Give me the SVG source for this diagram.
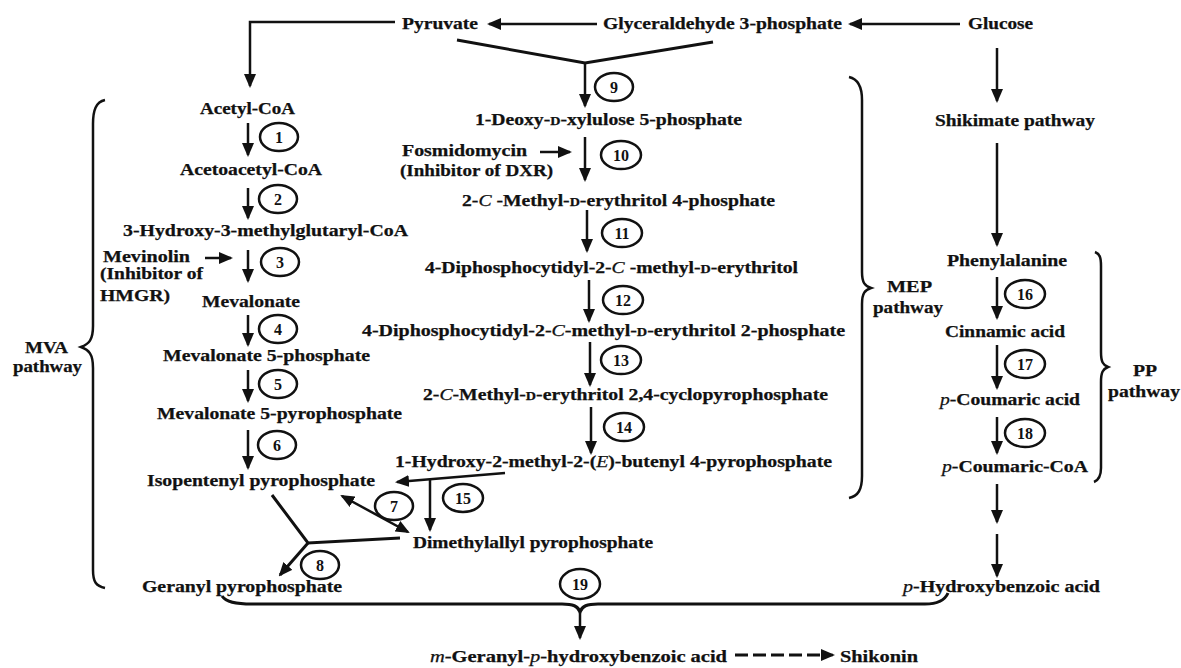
<svg xmlns="http://www.w3.org/2000/svg" width="1181" height="668" viewBox="0 0 1181 668">
<style>
.t{font-family:"Liberation Serif","Times New Roman",serif;font-weight:bold;font-size:16px;fill:#111;stroke:#111;stroke-width:0.25}
.i{font-style:italic;font-weight:normal}
.sc{font-size:11.5px}
.n{font-family:"Liberation Serif","Times New Roman",serif;font-weight:bold;font-size:16px;text-anchor:middle;fill:#111}
.ln{stroke:#111;stroke-width:2.5;fill:none}
.th{stroke:#111;stroke-width:3;fill:none}
.c{fill:#fff;stroke:#111;stroke-width:2.5}
.a{marker-end:url(#ah)}
.aa{marker-start:url(#ah);marker-end:url(#ah)}
</style>
<defs>
<marker id="ah" viewBox="0 0 14 12" refX="12" refY="6" markerWidth="14" markerHeight="12" markerUnits="userSpaceOnUse" orient="auto-start-reverse"><path d="M0,0 L14,6 L0,12 z" fill="#111"/></marker>
</defs>
<rect width="1181" height="668" fill="#fff"/>

<g id="connectors">
<path class="ln a" d="M395,22 H250 V86"/>
<path class="ln a" d="M597,24 H489"/>
<path class="ln a" d="M960,24 H850"/>
<path class="th" d="M457,40 L585,63 L713,42"/>
<path class="ln a" d="M585,63 V106"/>
<path class="ln a" d="M248,123 V155"/>
<path class="ln a" d="M248,188 V218"/>
<path class="ln a" d="M205,258 H231"/>
<path class="ln a" d="M248,250 V281"/>
<path class="ln a" d="M248,315 V345"/>
<path class="ln a" d="M248,370 V401"/>
<path class="ln a" d="M248,430 V468"/>
<path class="ln a" d="M540,152 H570"/>
<path class="ln a" d="M585,137 V180"/>
<path class="ln a" d="M587,210 V251"/>
<path class="ln a" d="M589,280 V321"/>
<path class="ln a" d="M590,342 V385"/>
<path class="ln a" d="M591,407 V453"/>
<path class="ln a" d="M505,473 L397,482"/>
<path class="ln a" d="M430,479 V530"/>
<path class="ln aa" d="M342,496 L408,532"/>
<path class="th" d="M272,495 L308,543 L400,538"/>
<path class="th a" d="M308,543 L280,575"/>
<path class="ln a" d="M997,48 V101"/>
<path class="ln a" d="M997,143 V245"/>
<path class="ln a" d="M997,277 V318"/>
<path class="ln a" d="M997,345 V388"/>
<path class="ln a" d="M997,417 V453"/>
<path class="ln a" d="M997,484 V522"/>
<path class="ln a" d="M997,534 V576"/>
<path class="ln" d="M105,100 C96,102 93,110 93,124 V326 C93,340 89,344 81,347 C89,350 93,354 93,368 V570 C93,582 96,586 105,588"/>
<path class="ln" d="M849,77 C858,79 862,86 862,100 V272 C862,283 865,286 871,288 C865,290 862,293 862,304 V476 C862,490 858,496 849,498"/>
<path class="ln" d="M1095,252 C1100,254 1101,258 1101,266 V352 C1101,362 1103,365 1108,367 C1103,369 1101,372 1101,382 V468 C1101,476 1099,480 1094,482"/>
<path class="th" d="M222,596 C226,602 235,604 252,604 H562 C573,604 578,606 580,612 C582,606 587,604 598,604 H925 C938,604 945,600 948,593"/>
<path class="ln a" d="M580,612 V638"/>
<path class="th" d="M735,655 H822" stroke-width="3.5" stroke-dasharray="13,5"/>
<path class="ln a" d="M822,655 H833"/>
</g>

<g id="n1"><ellipse class="c" cx="279" cy="137" rx="19" ry="14"/><text class="n" x="279" y="142.5">1</text></g>
<g id="n2"><ellipse class="c" cx="278" cy="199" rx="19" ry="14"/><text class="n" x="278" y="204.5">2</text></g>
<g id="n3"><ellipse class="c" cx="280" cy="262" rx="19" ry="14"/><text class="n" x="280" y="267.5">3</text></g>
<g id="n4"><ellipse class="c" cx="278" cy="329" rx="19" ry="14"/><text class="n" x="278" y="334.5">4</text></g>
<g id="n5"><ellipse class="c" cx="278" cy="384" rx="19" ry="14"/><text class="n" x="278" y="389.5">5</text></g>
<g id="n6"><ellipse class="c" cx="277" cy="445" rx="19" ry="14"/><text class="n" x="277" y="450.5">6</text></g>
<g id="n7"><ellipse class="c" cx="394" cy="506" rx="19" ry="14"/><text class="n" x="394" y="511.5">7</text></g>
<g id="n8"><ellipse class="c" cx="320" cy="565" rx="19" ry="14"/><text class="n" x="320" y="570.5">8</text></g>
<g id="n9"><ellipse class="c" cx="614" cy="87" rx="19" ry="14"/><text class="n" x="614" y="92.5">9</text></g>
<g id="n10"><ellipse class="c" cx="621" cy="155" rx="20" ry="14"/><text class="n" x="621" y="160.5">10</text></g>
<g id="n11"><ellipse class="c" cx="622" cy="233" rx="20" ry="14"/><text class="n" x="622" y="238.5">11</text></g>
<g id="n12"><ellipse class="c" cx="623" cy="300" rx="20" ry="14"/><text class="n" x="623" y="305.5">12</text></g>
<g id="n13"><ellipse class="c" cx="621" cy="360" rx="20" ry="14"/><text class="n" x="621" y="365.5">13</text></g>
<g id="n14"><ellipse class="c" cx="624" cy="427" rx="20" ry="14"/><text class="n" x="624" y="432.5">14</text></g>
<g id="n15"><ellipse class="c" cx="463" cy="498" rx="20" ry="14"/><text class="n" x="463" y="503.5">15</text></g>
<g id="n16"><ellipse class="c" cx="1025" cy="294" rx="20" ry="14"/><text class="n" x="1025" y="299.5">16</text></g>
<g id="n17"><ellipse class="c" cx="1025" cy="364" rx="20" ry="14"/><text class="n" x="1025" y="369.5">17</text></g>
<g id="n18"><ellipse class="c" cx="1025" cy="433" rx="20" ry="14"/><text class="n" x="1025" y="438.5">18</text></g>
<g id="n19"><ellipse class="c" cx="580" cy="584" rx="20" ry="15"/><text class="n" x="580" y="589.5">19</text></g>

<g id="pyruvate"><text class="t" x="402" y="29" textLength="76" lengthAdjust="spacingAndGlyphs">Pyruvate</text></g>
<g id="g3p"><text class="t" x="603" y="29" textLength="239" lengthAdjust="spacingAndGlyphs">Glyceraldehyde 3-phosphate</text></g>
<g id="glucose"><text class="t" x="968" y="29" textLength="65" lengthAdjust="spacingAndGlyphs">Glucose</text></g>
<g id="acetylcoa"><text class="t" x="200" y="114" textLength="95" lengthAdjust="spacingAndGlyphs">Acetyl-CoA</text></g>
<g id="acetoacetylcoa"><text class="t" x="180" y="175" textLength="142" lengthAdjust="spacingAndGlyphs">Acetoacetyl-CoA</text></g>
<g id="hmgcoa"><text class="t" x="123" y="236" textLength="285" lengthAdjust="spacingAndGlyphs">3-Hydroxy-3-methylglutaryl-CoA</text></g>
<g id="mevinolin"><text class="t" x="103" y="262" textLength="87" lengthAdjust="spacingAndGlyphs">Mevinolin</text><text class="t" x="100" y="279" textLength="103" lengthAdjust="spacingAndGlyphs">(Inhibitor of</text><text class="t" x="100" y="301" textLength="70" lengthAdjust="spacingAndGlyphs">HMGR)</text></g>
<g id="mevalonate"><text class="t" x="202" y="307" textLength="98" lengthAdjust="spacingAndGlyphs">Mevalonate</text></g>
<g id="mev5p"><text class="t" x="163" y="361" textLength="207" lengthAdjust="spacingAndGlyphs">Mevalonate 5-phosphate</text></g>
<g id="mev5pp"><text class="t" x="157" y="419" textLength="245" lengthAdjust="spacingAndGlyphs">Mevalonate 5-pyrophosphate</text></g>
<g id="ipp"><text class="t" x="147" y="486" textLength="228" lengthAdjust="spacingAndGlyphs">Isopentenyl pyrophosphate</text></g>
<g id="gpp"><text class="t" x="142" y="592" textLength="200" lengthAdjust="spacingAndGlyphs">Geranyl pyrophosphate</text></g>
<g id="mva"><text class="t" x="25" y="353" textLength="43" lengthAdjust="spacingAndGlyphs">MVA</text><text class="t" x="13" y="372" textLength="69" lengthAdjust="spacingAndGlyphs">pathway</text></g>
<g id="dxp"><text class="t" x="475" y="125" textLength="267" lengthAdjust="spacingAndGlyphs">1-Deoxy-<tspan class="sc">D</tspan>-xylulose 5-phosphate</text></g>
<g id="fosmidomycin"><text class="t" x="402" y="156" textLength="125" lengthAdjust="spacingAndGlyphs">Fosmidomycin</text><text class="t" x="400" y="176" textLength="153" lengthAdjust="spacingAndGlyphs">(Inhibitor of DXR)</text></g>
<g id="mep"><text class="t" x="462" y="206" textLength="313" lengthAdjust="spacingAndGlyphs">2-<tspan class="i">C</tspan> -Methyl-<tspan class="sc">D</tspan>-erythritol 4-phosphate</text></g>
<g id="cdpme"><text class="t" x="425" y="273" textLength="373" lengthAdjust="spacingAndGlyphs">4-Diphosphocytidyl-2-<tspan class="i">C</tspan> -methyl-<tspan class="sc">D</tspan>-erythritol</text></g>
<g id="cdpmep"><text class="t" x="362" y="336" textLength="483" lengthAdjust="spacingAndGlyphs">4-Diphosphocytidyl-2-<tspan class="i">C</tspan>-methyl-<tspan class="sc">D</tspan>-erythritol 2-phosphate</text></g>
<g id="mecpp"><text class="t" x="423" y="400" textLength="405" lengthAdjust="spacingAndGlyphs">2-<tspan class="i">C</tspan>-Methyl-<tspan class="sc">D</tspan>-erythritol 2,4-cyclopyrophosphate</text></g>
<g id="hmbpp"><text class="t" x="395" y="467" textLength="437" lengthAdjust="spacingAndGlyphs">1-Hydroxy-2-methyl-2-(<tspan class="i">E</tspan>)-butenyl 4-pyrophosphate</text></g>
<g id="dmapp"><text class="t" x="413" y="548" textLength="240" lengthAdjust="spacingAndGlyphs">Dimethylallyl pyrophosphate</text></g>
<g id="meplabel"><text class="t" x="887" y="292" textLength="45" lengthAdjust="spacingAndGlyphs">MEP</text><text class="t" x="873" y="313" textLength="70" lengthAdjust="spacingAndGlyphs">pathway</text></g>
<g id="shikimate"><text class="t" x="935" y="126" textLength="160" lengthAdjust="spacingAndGlyphs">Shikimate pathway</text></g>
<g id="phe"><text class="t" x="947" y="266" textLength="120" lengthAdjust="spacingAndGlyphs">Phenylalanine</text></g>
<g id="cinnamic"><text class="t" x="945" y="337" textLength="120" lengthAdjust="spacingAndGlyphs">Cinnamic acid</text></g>
<g id="pcoumaric"><text class="t" x="940" y="405" textLength="140" lengthAdjust="spacingAndGlyphs"><tspan class="i">p</tspan>-Coumaric acid</text></g>
<g id="pcoumaroylcoa"><text class="t" x="942" y="472" textLength="146" lengthAdjust="spacingAndGlyphs"><tspan class="i">p</tspan>-Coumaric-CoA</text></g>
<g id="pplabel"><text class="t" x="1133" y="376" textLength="24" lengthAdjust="spacingAndGlyphs">PP</text><text class="t" x="1108" y="397" textLength="72" lengthAdjust="spacingAndGlyphs">pathway</text></g>
<g id="phba"><text class="t" x="903" y="592" textLength="197" lengthAdjust="spacingAndGlyphs"><tspan class="i">p</tspan>-Hydroxybenzoic acid</text></g>
<g id="mgpba"><text class="t" x="430" y="662" textLength="297" lengthAdjust="spacingAndGlyphs"><tspan class="i">m</tspan>-Geranyl-<tspan class="i">p</tspan>-hydroxybenzoic acid</text></g>
<g id="shikonin"><text class="t" x="840" y="662" textLength="78" lengthAdjust="spacingAndGlyphs">Shikonin</text></g>
</svg>
